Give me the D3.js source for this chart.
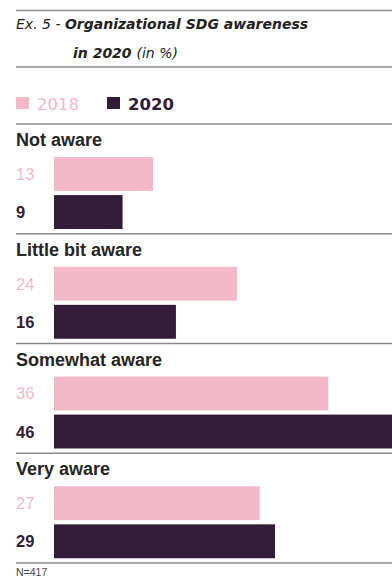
<!DOCTYPE html>
<html>
<head>
<meta charset="utf-8">
<script src="https://cdn.jsdelivr.net/npm/d3@7"></script>
<style>
  html, body { margin: 0; padding: 0; background: #fff; }
  svg { display: block; }
</style>
</head>
<body>
<div id="chart"></div>
<script>
var categories = ["Not aware", "Little bit aware", "Somewhat aware", "Very aware"];
var years = ["2018", "2020"];
var values2018 = [13, 24, 36, 27];
var values2020 = [9, 16, 46, 29];
var colors = ["#f4b9c9", "#321c38"];

var width = 392, height = 578;
var svg = d3.select("#chart").append("svg")
  .attr("width", width).attr("height", height);

var ruleColor = "#8a8a8a";
var labelFont = "'Liberation Sans', Arial, sans-serif";
var titleFont = "'DejaVu Sans', sans-serif";

// title block
svg.append("line").attr("x1", 16).attr("x2", width).attr("y1", 10.5).attr("y2", 10.5)
  .attr("stroke", ruleColor).attr("stroke-width", 1.5);
var t1 = svg.append("text").attr("x", 16).attr("y", 28.5)
  .attr("font-family", titleFont).attr("font-size", 14).attr("font-style", "italic").attr("fill", "#222");
t1.append("tspan").attr("font-weight", 400).text("Ex. 5 - ");
t1.append("tspan").attr("font-weight", 700).text("Organizational SDG awareness");
var t2 = svg.append("text").attr("x", 73).attr("y", 57.5)
  .attr("font-family", titleFont).attr("font-size", 14).attr("font-style", "italic").attr("fill", "#222");
t2.append("tspan").attr("font-weight", 700).text("in 2020 ");
t2.append("tspan").attr("font-weight", 400).text("(in %)");
svg.append("line").attr("x1", 16).attr("x2", width).attr("y1", 67).attr("y2", 67)
  .attr("stroke", ruleColor).attr("stroke-width", 1.5);

// legend
var legendX = [16, 107];
var legend = svg.append("g").selectAll("g").data(years).enter().append("g")
  .attr("transform", function (d, i) { return "translate(" + legendX[i] + ",97)"; });
legend.append("rect").attr("width", 13).attr("height", 12)
  .attr("fill", function (d, i) { return colors[i]; });
legend.append("text").attr("x", 21).attr("y", 12.5)
  .attr("font-family", titleFont).attr("font-size", 16.5)
  .attr("font-weight", function (d, i) { return i === 0 ? 400 : 700; })
  .attr("fill", function (d, i) { return colors[i]; })
  .text(function (d) { return d; });

// scales
var y0 = d3.scaleBand().domain(categories).range([124, 563]);
var y1 = d3.scaleBand().domain(years).range([33, 105]).paddingInner(0.11);
var x = d3.scaleLinear().domain([0, 46]).range([54, 54 + 46 * 7.62]);

var data = categories.map(function (c, i) {
  return { cat: c, vals: [values2018[i], values2020[i]] };
});

var group = svg.append("g").selectAll("g").data(data).enter().append("g")
  .attr("transform", function (d) { return "translate(0," + y0(d.cat) + ")"; });

group.append("line").attr("x1", 16).attr("x2", width).attr("y1", 0).attr("y2", 0)
  .attr("stroke", ruleColor).attr("stroke-width", 1.5);

group.append("text").attr("x", 16).attr("y", 22)
  .attr("font-family", labelFont).attr("font-size", 18).attr("font-weight", 700)
  .attr("fill", "#252525")
  .text(function (d) { return d.cat; });

var bars = group.selectAll(".bar").data(function (d) {
  return years.map(function (yr, i) { return { key: yr, value: d.vals[i], idx: i }; });
}).enter();

bars.append("rect")
  .attr("x", x(0))
  .attr("y", function (d) { return y1(d.key); })
  .attr("width", function (d) { return x(d.value) - x(0); })
  .attr("height", y1.bandwidth())
  .attr("fill", function (d) { return colors[d.idx]; });

bars.append("text")
  .attr("x", 16)
  .attr("y", function (d) { return y1(d.key) + y1.bandwidth() / 2 + 6; })
  .attr("font-family", labelFont).attr("font-size", 16.5)
  .attr("font-weight", function (d) { return d.idx === 0 ? 400 : 700; })
  .attr("fill", function (d) { return colors[d.idx]; })
  .text(function (d) { return d.value; });

svg.append("line").attr("x1", 16).attr("x2", width).attr("y1", 563).attr("y2", 563)
  .attr("stroke", ruleColor).attr("stroke-width", 1.5);

svg.append("text").attr("x", 16).attr("y", 576)
  .attr("font-family", labelFont).attr("font-size", 10.5).attr("fill", "#444")
  .text("N=417");
</script>
</body>
</html>
